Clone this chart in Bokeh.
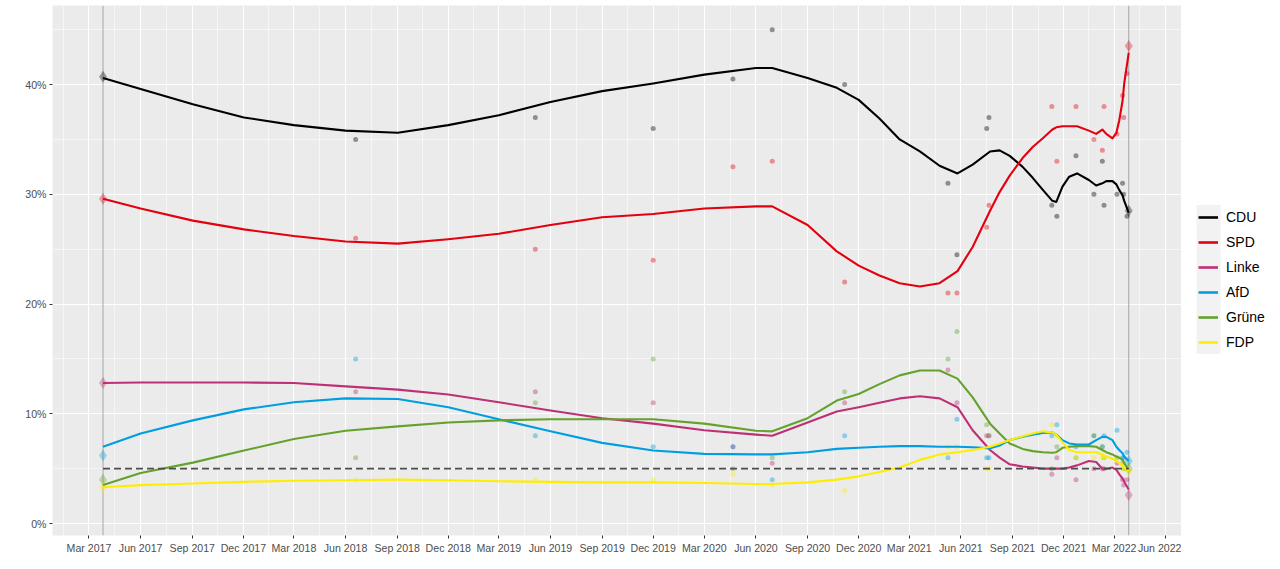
import pandas as pd
from bokeh.plotting import figure
from bokeh.layouts import row
from bokeh.models import (Range1d, FixedTicker, DatetimeTickFormatter, PrintfTickFormatter,
                          Span, Legend, LegendItem, ColumnDataSource)
from bokeh.embed import file_html
from bokeh.resources import INLINE

# ---------------- data ----------------
parties = ["CDU", "SPD", "Linke", "AfD", "Grüne", "FDP"]
colors = ["#000000", "#E3000F", "#BE3075", "#009EE0", "#64A12D", "#FFED00"]

election_dates = ["2017-03-26", "2022-03-27"]
election_2017 = [40.7, 29.6, 12.8, 6.2, 4.0, 3.3]
election_2022 = [28.5, 43.5, 2.6, 5.7, 5.0, 4.8]
threshold = 5

poll_dates = ["2018-06-19", "2019-05-05", "2019-12-01", "2020-04-21", "2020-06-30",
              "2020-11-06", "2021-05-09", "2021-05-25", "2021-07-17", "2021-07-21",
              "2021-11-10", "2021-11-19", "2021-12-23", "2022-01-24", "2022-02-08",
              "2022-02-11", "2022-03-06", "2022-03-16", "2022-03-18", "2022-03-24"]
poll_cdu   = [35, 37, 36, 40.5, 45, 40, 31, 24.5, 36, 37, 29, 28, 33.5, 30, 33, 29, 30, 31, 30, 28]
poll_spd   = [26, 25, 24, 32.5, 33, 22, 21, 21, 27, 29, 38, 33, 38, 35, 34, 38, 35.5, 39, 37, 41]
poll_linke = [12, 12, 11, 7, 5.5, 11, 14, 11, 8, 8, 4.5, 6, 4, 5, 5, 5, 5.5, 4, 3.5, 4]
poll_afd   = [15, 8, 7, 7, 4, 8, 6, 9.5, 6, 6, 8, 9, 7, 8, 7, 8, 8.5, 6, 6, 6.5]
poll_grune = [6, 11, 15, 5, 6, 12, 15, 17.5, 9, 8, 5, 7, 6, 8, 7, 6, 6, 5.5, 5, 5]
poll_fdp   = [4, 4, 4, 4.5, 3.5, 3, 7, 7, 5, 5, 9, 8, 6, 6, 6, 6, 6, 5, 5.5, 5]

curve_dates = ["2017-03-26", "2017-06-01", "2017-09-02", "2017-12-02", "2018-03-01",
               "2018-06-01", "2018-09-02", "2018-12-01", "2019-03-01", "2019-06-01",
               "2019-09-01", "2019-12-01", "2020-03-01", "2020-06-01", "2020-06-30",
               "2020-09-01", "2020-10-23", "2020-12-01", "2021-01-07", "2021-02-12",
               "2021-03-20", "2021-04-24", "2021-05-26", "2021-06-22", "2021-07-23",
               "2021-08-09", "2021-08-27", "2021-09-19", "2021-10-07", "2021-10-25",
               "2021-11-11", "2021-11-18", "2021-11-29", "2021-12-11", "2021-12-25",
               "2022-01-15", "2022-01-28", "2022-02-08", "2022-02-15", "2022-02-26",
               "2022-03-05", "2022-03-10", "2022-03-16", "2022-03-19", "2022-03-27"]
curve_cdu = [40.6, 39.6, 38.2, 37.0, 36.3, 35.8, 35.6, 36.3, 37.2, 38.4,
             39.4, 40.1, 40.9, 41.5, 41.5, 40.6, 39.7, 38.6, 36.9, 35.0,
             33.9, 32.6, 31.9, 32.7, 33.9, 34.0, 33.5, 32.5, 31.5, 30.4,
             29.4, 29.3, 30.7, 31.6, 31.9, 31.3, 30.8, 31.0, 31.2, 31.2,
             30.9, 30.4, 29.9, 29.4, 28.3]
curve_spd = [29.6, 28.7, 27.6, 26.8, 26.2, 25.7, 25.5, 25.9, 26.4, 27.2,
             27.9, 28.2, 28.7, 28.9, 28.9, 27.2, 24.8, 23.5, 22.6, 21.9,
             21.6, 21.9, 23.0, 25.2, 28.5, 30.2, 31.7, 33.3, 34.3, 35.1,
             35.9, 36.1, 36.2, 36.2, 36.2, 35.8, 35.5, 35.9, 35.5, 35.1,
             35.6, 36.7, 38.5, 40.1, 42.9]
curve_linke = [12.8, 12.85, 12.85, 12.85, 12.8, 12.5, 12.2, 11.75, 11.05, 10.3,
               9.6, 9.1, 8.5, 8.1, 8.0, 9.2, 10.2, 10.6, 11.0, 11.4,
               11.6, 11.4, 10.6, 8.5, 6.7, 6.0, 5.4, 5.2, 5.1, 5.0,
               5.0, 5.0, 5.0, 5.1, 5.3, 5.7, 5.6, 5.0, 5.0, 5.1,
               4.9, 4.5, 4.1, 3.8, 3.1]
curve_afd = [7.0, 8.2, 9.4, 10.4, 11.05, 11.4, 11.35, 10.6, 9.5, 8.4,
             7.35, 6.65, 6.35, 6.3, 6.3, 6.5, 6.8, 6.9, 7.0, 7.05,
             7.05, 7.0, 7.0, 6.95, 6.85, 7.1, 7.6, 7.9, 8.1, 8.25,
             8.3, 8.1, 7.6, 7.3, 7.2, 7.2, 7.6, 7.9, 7.9, 7.6,
             7.0, 6.7, 6.4, 6.1, 5.7]
curve_grune = [3.5, 4.6, 5.55, 6.65, 7.7, 8.45, 8.85, 9.2, 9.4, 9.5,
               9.5, 9.5, 9.1, 8.45, 8.4, 9.6, 11.2, 11.8, 12.7, 13.5,
               13.95, 13.95, 13.2, 11.5, 9.1, 8.2, 7.3, 6.8, 6.6, 6.5,
               6.45, 6.5, 6.9, 7.0, 7.05, 7.05, 7.0, 6.7, 6.5, 6.3,
               6.1, 6.0, 5.8, 5.5, 4.9]
curve_fdp = [3.3, 3.5, 3.65, 3.8, 3.9, 3.95, 4.0, 3.95, 3.85, 3.8,
             3.75, 3.75, 3.7, 3.6, 3.6, 3.75, 4.0, 4.3, 4.7, 5.1,
             5.8, 6.3, 6.5, 6.7, 7.0, 7.3, 7.6, 7.95, 8.2, 8.4,
             8.3, 8.1, 7.4, 6.7, 6.5, 6.5, 6.5, 6.3, 6.1, 5.9,
             5.7, 5.5, 5.3, 5.1, 4.8]

tick_dates = ["2017-03-01", "2017-06-01", "2017-09-01", "2017-12-01", "2018-03-01",
              "2018-06-01", "2018-09-01", "2018-12-01", "2019-03-01", "2019-06-01",
              "2019-09-01", "2019-12-01", "2020-03-01", "2020-06-01", "2020-09-01",
              "2020-12-01", "2021-03-01", "2021-06-01", "2021-09-01", "2021-12-01",
              "2022-03-01", "2022-06-01"]
y_ticks = [0, 10, 20, 30, 40]
y_minor = [5, 15, 25, 35, 45]

poll_values = [poll_cdu, poll_spd, poll_linke, poll_afd, poll_grune, poll_fdp]
curve_values = [curve_cdu, curve_spd, curve_linke, curve_afd, curve_grune, curve_fdp]

# ---------------- helpers ----------------
def ms(d):
    return pd.Timestamp(d).value / 1e6

major_ms = [ms(d) for d in tick_dates]
minor_ms = [(a + b) / 2 for a, b in zip(major_ms[:-1], major_ms[1:])]
minor_ms = [major_ms[0] - (major_ms[1] - major_ms[0]) / 2] + minor_ms + \
           [major_ms[-1] + (major_ms[-1] - major_ms[-2]) / 2]

FONT = "Liberation Sans"
H = 560
TOP, BOTTOM = 5, 25          # frame occupies screen rows TOP .. H-BOTTOM

p = figure(width=1181, height=H, x_axis_type="datetime",
           output_backend="svg", toolbar_location=None,
           x_range=Range1d(ms("2016-12-26"), ms("2022-06-29")),
           y_range=Range1d(-1.09, 47.2),
           min_border_left=52, min_border_top=TOP, min_border_bottom=BOTTOM,
           min_border_right=0)

p.background_fill_color = "#EBEBEB"
p.border_fill_color = "white"
p.outline_line_color = None

xt = FixedTicker(ticks=major_ms, minor_ticks=minor_ms)
yt = FixedTicker(ticks=y_ticks, minor_ticks=y_minor)
p.xaxis.ticker = xt
p.yaxis.ticker = yt
p.xgrid.ticker = xt
p.ygrid.ticker = yt
fmt = "%b %Y"
p.xaxis.formatter = DatetimeTickFormatter(
    microseconds=fmt, milliseconds=fmt, seconds=fmt, minsec=fmt, minutes=fmt,
    hourmin=fmt, hours=fmt, days=fmt, months=fmt, years=fmt)
p.yaxis.formatter = PrintfTickFormatter(format="%d%%")

for g in (p.xgrid, p.ygrid):
    g.grid_line_color = "white"
    g.grid_line_width = 1.1
    g.minor_grid_line_color = "white"
    g.minor_grid_line_width = 0.55

for ax in (p.xaxis, p.yaxis):
    ax.axis_line_color = None
    ax.major_tick_line_color = "#333333"
    ax.major_tick_line_width = 1
    ax.major_tick_in = 0
    ax.major_tick_out = 3
    ax.minor_tick_line_color = None
    ax.major_label_text_font = FONT
    ax.major_label_text_font_size = "10.6px"
    ax.major_label_text_color = "#4D4D4D"
    ax.major_label_standoff = 2

# election vertical lines
for d in election_dates:
    p.add_layout(Span(location=ms(d), dimension="height", line_color="#A6A6A6",
                      line_width=1, level="underlay"))

# poll points
pdates = pd.to_datetime(poll_dates)
for vals, col in zip(poll_values, colors):
    p.scatter(pdates, vals, size=5, marker="circle", fill_color=col, fill_alpha=0.4,
              line_color=None)

# election results as diamonds
edates = pd.to_datetime(election_dates)
for i, col in enumerate(colors):
    p.scatter(edates, [election_2017[i], election_2022[i]], size=12, marker="diamond",
              fill_color=col, fill_alpha=0.35, line_color=None)

# smoothed curves
cdates = pd.to_datetime(curve_dates)
for name, vals, col in zip(parties, curve_values, colors):
    src = ColumnDataSource(dict(x=cdates, y=vals))
    p.line("x", "y", source=src, line_color=col, line_width=2.1, line_join="round")

# 5% threshold
p.line(edates, [threshold, threshold], line_color="#4D4D4D", line_width=1.8,
       line_dash="7 4")

# ---------------- legend panel (separate figure to the right) ----------------
# its frame is aligned with the main frame by the row layout; ranges = screen pixels
LW = 89
leg = figure(width=LW, height=H, output_backend="svg", toolbar_location=None,
             x_range=Range1d(0, LW), y_range=Range1d(H - BOTTOM, TOP),
             x_axis_location=None, y_axis_location=None,
             min_border_left=0, min_border_right=0,
             min_border_top=TOP, min_border_bottom=BOTTOM)
leg.grid.visible = False
leg.outline_line_color = None
leg.background_fill_color = "white"
leg.border_fill_color = "white"
# grey key column behind the legend keys
leg.quad(left=[15], right=[39], top=[204.5], bottom=[353.5], fill_color="#F2F2F2",
         line_color=None)

items = []
for name, col in zip(parties, colors):
    # off-canvas stub line: only its style is used for the legend key
    r = leg.line(x=[-20, -10], y=[0, 0], line_color=col, line_width=2.6)
    items.append(LegendItem(label=name, renderers=[r]))

legend = Legend(items=items, location=(17, (H - BOTTOM) - 353.5), label_text_font=FONT,
                label_text_font_size="14px", label_text_color="#000000",
                glyph_width=20, glyph_height=24, label_height=24, spacing=1,
                padding=0, margin=0, label_standoff=8,
                border_line_color=None, background_fill_alpha=0)
leg.add_layout(legend, "center")

layout = row(p, leg)
open("out.html", "w").write(file_html(layout, INLINE))
